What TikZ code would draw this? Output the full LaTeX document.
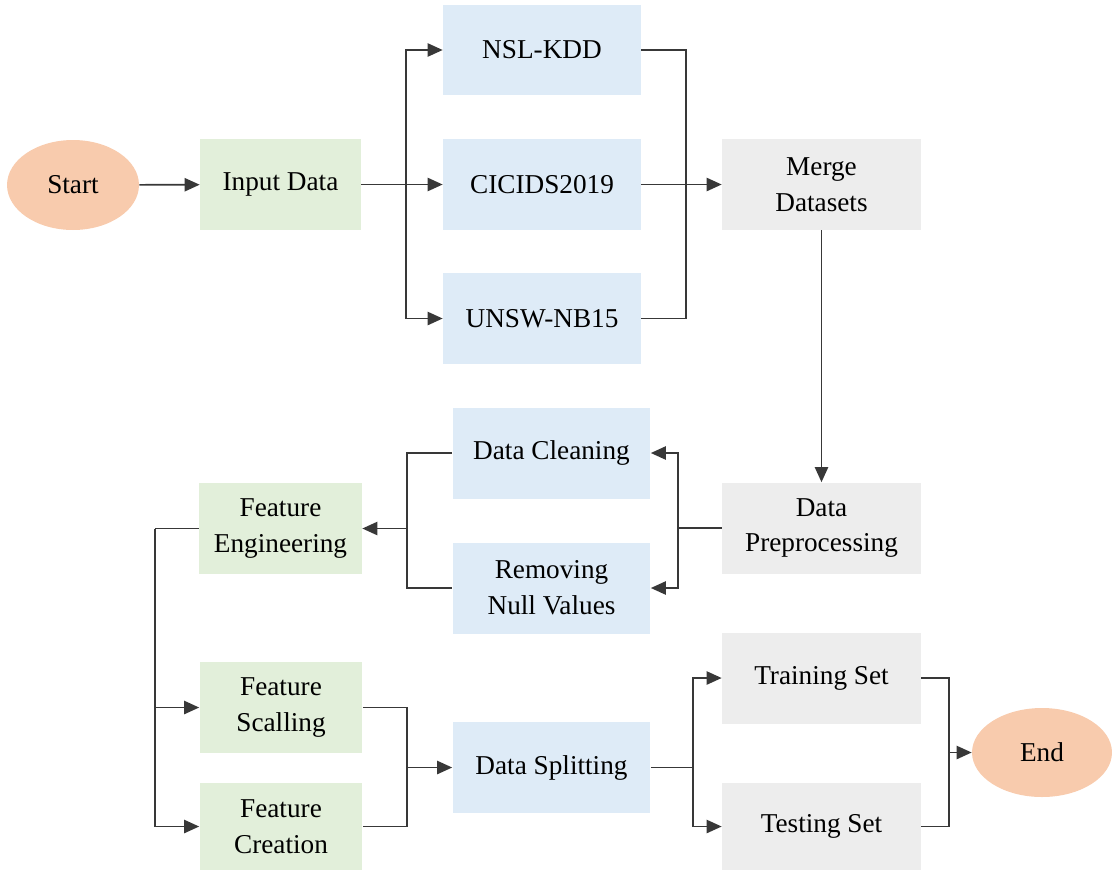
\documentclass[tikz,border=0pt]{standalone}
\usepackage{fontspec}
\setmainfont{Liberation Serif}
\usetikzlibrary{arrows.meta,shapes.geometric}
\definecolor{termfill}{HTML}{F8CBAD}
\definecolor{greenfill}{HTML}{E2EFDA}
\definecolor{bluefill}{HTML}{DEEBF7}
\definecolor{grayfill}{HTML}{EDEDED}
\tikzset{
  box/.style={rectangle, minimum width=3.96cm, minimum height=1.82cm, align=center,
    inner sep=0pt, font=\fontsize{15.5}{20.4}\selectfont},
  greenbox/.style={box, fill=greenfill, minimum width=3.24cm},
  bluebox/.style={box, fill=bluefill},
  graybox/.style={box, fill=grayfill, minimum width=3.98cm},
  terminal/.style={ellipse, fill=termfill, inner sep=0pt, font=\fontsize{15.5}{20.4}\selectfont},
  line/.style={draw=black!78, line width=0.95pt},
  arrow/.style={line, -{Triangle[length=8.5pt,width=7.5pt]}}
}
\begin{document}
\begin{tikzpicture}[x=0.02cm,y=-0.02cm]
\useasboundingbox (0,0) rectangle (1112,870);
% start and input
\node[terminal, minimum width=2.64cm, minimum height=1.8cm] (start) at (73,185) {Start};
\node[greenbox, minimum width=3.22cm] (input) at (280.5,184.5) {Input Data};
% datasets
\node[bluebox] (nsl) at (542,50) {NSL-KDD};
\node[bluebox] (cic) at (542,184.5) {CICIDS2019};
\node[bluebox] (unsw) at (542,318.5) {UNSW-NB15};
\node[graybox] (merge) at (821.5,184.5) {Merge\\Datasets};
% preprocessing
\node[graybox] (prep) at (821.5,528) {Data\\Preprocessing};
\node[bluebox] (clean) at (551.5,453) {Data Cleaning};
\node[bluebox] (nullv) at (551.5,588) {Removing\\Null Values};
% features
\node[greenbox, minimum width=3.26cm] (feng) at (280.5,528.5) {Feature\\Engineering};
\node[greenbox, minimum width=3.26cm] (fscal) at (281,707.5) {Feature\\Scalling};
\node[greenbox, minimum width=3.26cm, minimum height=1.74cm] (fcre) at (281,826.5) {Feature\\Creation};
% splitting and end
\node[bluebox] (split) at (551.5,767.5) {Data Splitting};
\node[graybox] (train) at (821.5,678) {Training Set};
\node[graybox, minimum height=1.74cm] (test) at (821.5,826.5) {Testing Set};
\node[terminal, minimum width=2.8cm, minimum height=1.78cm] (end) at (1042,752.5) {End};
% bus points
\coordinate (inbus) at (406,184.5);
\coordinate (mergebus) at (686,184.5);
\coordinate (prepbus) at (678,528);
\coordinate (cleanbus) at (407,528.5);
\coordinate (fengbus) at (155,528.5);
\coordinate (splitbus) at (407,767.5);
\coordinate (setbus) at (693,767.5);
\coordinate (endbus) at (949,752.5);
% top row lines
\draw[arrow] (start) -- (input);
\draw[arrow] (input) -- (cic);
\draw[arrow] (inbus) |- (nsl);
\draw[arrow] (inbus) |- (unsw);
\draw[line] (nsl.east) -| (mergebus) |- (unsw.east);
\draw[arrow] (cic) -- (merge);
\draw[arrow] (merge) -- (prep);
% preprocessing lines
\draw[line] (prep) -- (prepbus);
\draw[arrow] (prepbus) |- (clean);
\draw[arrow] (prepbus) |- (nullv);
\draw[line] (clean.west) -| (cleanbus) |- (nullv.west);
\draw[arrow] (cleanbus) -- (feng);
% feature lines
\draw[line] (feng) -- (fengbus);
\draw[arrow] (fengbus) |- (fscal);
\draw[arrow] (fengbus) |- (fcre);
\draw[line] (fscal.east) -| (splitbus) |- (fcre.east);
\draw[arrow] (splitbus) -- (split);
% splitting lines
\draw[line] (split) -- (setbus);
\draw[arrow] (setbus) |- (train);
\draw[arrow] (setbus) |- (test);
\draw[line] (train.east) -| (endbus) |- (test.east);
\draw[arrow] (endbus) -- (end);
\end{tikzpicture}
\end{document}
